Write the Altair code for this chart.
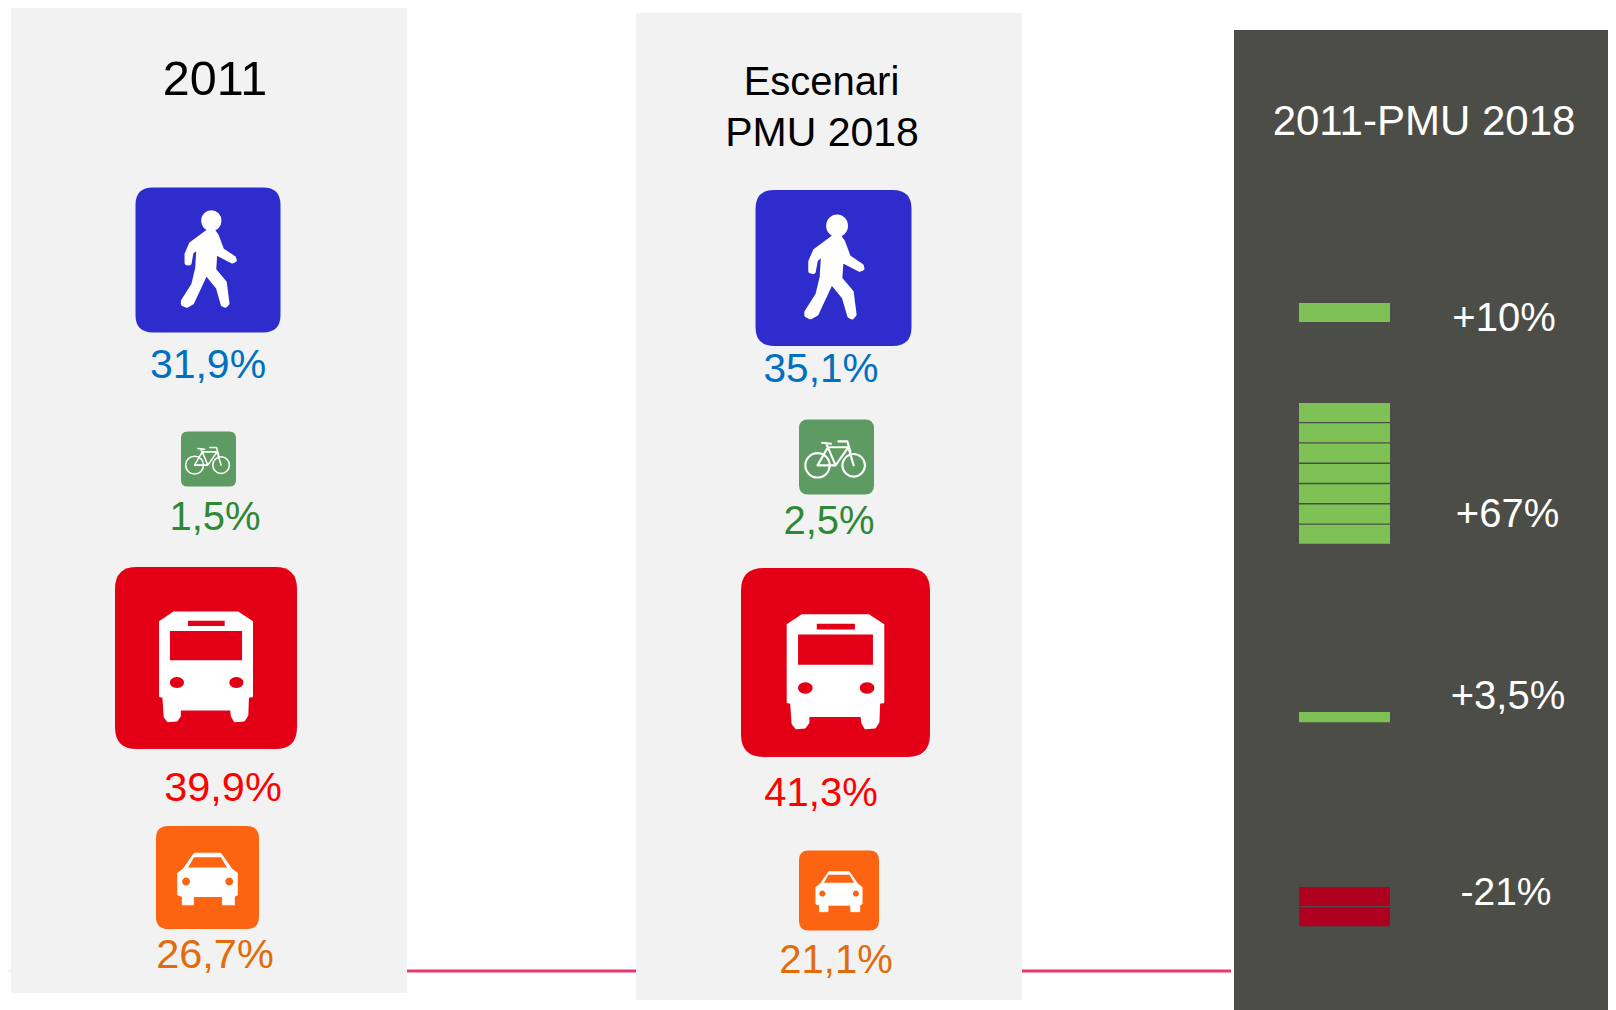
import math
import altair as alt
import pandas as pd

# ---- values ----
modes = ["walk", "bike", "bus", "car"]
shares_2011 = ["31,9%", "1,5%", "39,9%", "26,7%"]
shares_pmu = ["35,1%", "2,5%", "41,3%", "21,1%"]
change_labels = ["+10%", "+67%", "+3,5%", "-21%"]
change_units = [1, 7, 0.57, 2]          # stacked blocks in the right-hand column
mode_bg = ["#2f2ccd", "#5d9b62", "#e30017", "#fd6412"]
mode_text = ["#0070c0", "#2e8835", "#ff0000", "#e36c0a"]

# ---- layout (scene units = reference pixels) ----
panels = [(11, 407, 6, 993, "#f2f2f3"), (636, 1022, 13, 1000, "#f2f2f3"), (1234, 1620, 30, 1014, "#4d4d47")]
lines = [(8, 11, 971, "#fdeef2"), (407, 636, 971, "#e8386d"), (1022, 1231, 971, "#e8386d")]
icon_cx = [[208, 208.5, 206, 207.5], [833.5, 836.5, 835.5, 839]]
icon_cy = [[260, 459, 658, 877.5], [268, 457, 662.5, 890.5]]
icon_side = [[145, 55, 182, 103], [156, 75, 189, 80]]
share_x = [[208, 215, 223, 215], [821, 829, 821, 836]]
share_y = [[378, 530, 801, 968], [382, 534, 806, 973]]
share_fs = [[41, 40, 41.5, 41.5], [40.5, 40, 40, 40]]
titles = [("2011", 215, 95, 48.5, "#000000"), ("Escenari", 821.5, 95, 40, "#000000"),
          ("PMU 2018", 822, 146, 41, "#000000"), ("2011-PMU 2018", 1424, 135, 42, "#ffffff")]
change_x = [1504, 1507.5, 1508, 1506]
change_y = [331, 527, 709, 905]
change_fs = [40, 40, 40, 39]
bar_top = [303, 403, 712, 887]
bar_x = (1299, 1390)
unit_h = 20.3
unit_gap = 1.4
bar_fill = ["#7ec255", "#7ec255", "#7ec255", "#b0001f"]


# ---- icon glyphs, drawn in a box of the reference crop, normalised to [-1, 1] ----
def P(px, py, cx, cy, h):
    return (px - cx) / h, (py - cy) / h


def poly(points, box):
    return "M" + "L".join("%.4f,%.4f" % P(x, y, *box) for x, y in points) + "Z"


def ell(x, y, rx, ry, box):
    cx, cy, h = box
    a, b = P(x, y, *box)
    rx, ry = rx / h, ry / h
    return "M%.4f,%.4fA%.4f,%.4f 0 1,0 %.4f,%.4fA%.4f,%.4f 0 1,0 %.4f,%.4fZ" % (
        a - rx, b, rx, ry, a + rx, b, rx, ry, a - rx, b)


def seg(points, box):
    return "M" + "L".join("%.4f,%.4f" % P(x, y, *box) for x, y in points)


r = 0.24
rounded = (f"M{-1+r},-1L{1-r},-1Q1,-1 1,{-1+r}L1,{1-r}Q1,1 {1-r},1L{-1+r},1Q-1,1 -1,{1-r}"
           f"L-1,{-1+r}Q-1,-1 {-1+r},-1Z")

walk_box = (624, 270, 218)
walk_white = ell(634, 152, 24, 25, walk_box) + poly([
    (622, 186), (642, 186), (650, 197), (666, 240), (702, 264), (704, 271), (697, 274), (658, 254),
    (646, 243), (642, 300), (674, 338), (682, 400), (676, 407), (669, 404), (654, 352), (618, 308),
    (576, 398), (560, 407), (549, 402), (549, 394), (580, 345), (592, 295), (596, 228),
    (574, 247), (568, 280), (560, 279), (560, 252), (573, 222)], walk_box)

bike_box = (624, 866.5, 83)
bike_line = (ell(582, 885, 27, 27, bike_box) + ell(662, 885, 25, 25, bike_box)
             + seg([(582, 885), (605, 845), (650, 845), (662, 885)], bike_box)
             + seg([(605, 845), (622, 885), (582, 885)], bike_box)
             + seg([(622, 885), (650, 845)], bike_box)
             + seg([(592, 835), (612, 837)], bike_box)
             + seg([(605, 845), (600, 835)], bike_box)
             + seg([(628, 832), (648, 832), (655, 855)], bike_box))

bus_box = (619, 323.5, 272.5)
bus_white = poly([
    (522, 187), (715, 187), (757, 215), (757, 438), (745, 440), (743, 495), (733, 511), (705, 513),
    (696, 497), (694, 478), (541, 478), (541, 497), (531, 511), (505, 513), (495, 500), (491, 440),
    (481, 438), (481, 215)], bus_box)
bus_cut = (poly([(565, 212), (675, 212), (675, 228), (565, 228)], bus_box)
           + poly([(511, 243), (727, 243), (727, 330), (511, 330)], bus_box)
           + ell(532, 397, 21, 16, bus_box) + ell(710, 397, 21, 16, bus_box))

car_box = (622.5, 983, 155)
car_white = poly([
    (583, 910), (662, 910), (695, 957), (712, 970), (712, 1035), (703, 1040), (703, 1065), (668, 1065),
    (668, 1040), (580, 1040), (580, 1065), (547, 1065), (547, 1040), (533, 1035), (533, 970),
    (550, 957)], car_box)
car_cut = (poly([(582, 922), (663, 922), (681, 953), (564, 953)], car_box)
           + ell(558, 995, 12, 12, car_box) + ell(688, 995, 12, 12, car_box))

solid_white = [walk_white, None, bus_white, car_white]
line_white = [None, bike_line, None, None]
cut_out = [None, None, bus_cut, car_cut]
white_sw = [0.03, 0, 0.01, 0.01]

# ---- tables ----
panel_df = pd.DataFrame(panels, columns=["x", "x2", "y", "y2", "color"])
line_df = pd.DataFrame(lines, columns=["x", "x2", "y", "color"])

bg_rows, white_rows, stroke_rows, cut_rows, text_rows = [], [], [], [], []
for col, shares in enumerate([shares_2011, shares_pmu]):
    for i, m in enumerate(modes):
        base = {"x": icon_cx[col][i], "y": icon_cy[col][i], "size": icon_side[col][i] ** 2}
        bg_rows.append({**base, "shape": rounded, "color": mode_bg[i]})
        if solid_white[i]:
            white_rows.append({**base, "shape": solid_white[i], "sw": icon_side[col][i] * white_sw[i]})
        if line_white[i]:
            stroke_rows.append({**base, "shape": line_white[i], "sw": icon_side[col][i] * 0.028})
        if cut_out[i]:
            cut_rows.append({**base, "shape": cut_out[i], "color": mode_bg[i]})
        text_rows.append({"x": share_x[col][i], "y": share_y[col][i], "label": shares[i],
                          "fs": share_fs[col][i], "color": mode_text[i]})
for t, x, y, fs, c in titles:
    text_rows.append({"x": x, "y": y, "label": t, "fs": fs, "color": c})
for i, lab in enumerate(change_labels):
    text_rows.append({"x": change_x[i], "y": change_y[i], "label": lab, "fs": change_fs[i], "color": "#ffffff"})

bar_rows = []
for i, u in enumerate(change_units):
    n = math.ceil(u)
    for k in range(n):
        part = min(1, u - k)
        top = bar_top[i] + k * unit_h
        bar_rows.append({"x": bar_x[0], "x2": bar_x[1], "y": top, "y2": top + part * unit_h - unit_gap,
                         "color": bar_fill[i]})

bg_df, white_df, stroke_df = map(pd.DataFrame, (bg_rows, white_rows, stroke_rows))
cut_df, text_df, bar_df = map(pd.DataFrame, (cut_rows, text_rows, bar_rows))

# ---- scales ----
X = alt.X("x:Q", scale=alt.Scale(domain=[8, 1608], nice=False, zero=False), axis=None)
Y = alt.Y("y:Q", scale=alt.Scale(domain=[1010, 8], nice=False, zero=False), axis=None)
C = alt.Color("color:N", scale=None)
F = alt.Fill("color:N", scale=None)
S = alt.Size("size:Q", scale=None)
SH = alt.Shape("shape:N", scale=None)
SW = alt.StrokeWidth("sw:Q", scale=None)

panel_layer = alt.Chart(panel_df).mark_rect().encode(x=X, x2="x2:Q", y=Y, y2="y2:Q", color=C)
line_layer = alt.Chart(line_df).mark_rule(strokeWidth=3).encode(x=X, x2="x2:Q", y=Y, color=C)
bar_layer = alt.Chart(bar_df).mark_rect().encode(x=X, x2="x2:Q", y=Y, y2="y2:Q", color=C)
bg_layer = alt.Chart(bg_df).mark_point(filled=True, opacity=1).encode(x=X, y=Y, size=S, shape=SH, fill=F)
white_layer = alt.Chart(white_df).mark_point(
    filled=True, opacity=1, fill="#ffffff", stroke="#ffffff", strokeJoin="round"
).encode(x=X, y=Y, size=S, shape=SH, strokeWidth=SW)
stroke_layer = alt.Chart(stroke_df).mark_point(
    filled=False, opacity=1, stroke="#ffffff", strokeJoin="round", strokeCap="round"
).encode(x=X, y=Y, size=S, shape=SH, strokeWidth=SW)
cut_layer = alt.Chart(cut_df).mark_point(filled=True, opacity=1).encode(x=X, y=Y, size=S, shape=SH, fill=F)
text_layer = alt.Chart(text_df).mark_text(
    font="Liberation Sans", align="center", baseline="alphabetic"
).encode(x=X, y=Y, text="label:N", size=alt.Size("fs:Q", scale=None), color=C)

chart = (
    alt.layer(panel_layer, line_layer, bar_layer, bg_layer, white_layer, stroke_layer, cut_layer, text_layer)
    .properties(width=1600, height=1002, padding=0, background="#ffffff",
                autosize=alt.AutoSizeParams(type="none"))
    .configure_view(stroke=None)
)
chart.save("out.html", embed_options={"renderer": "svg", "actions": False})
